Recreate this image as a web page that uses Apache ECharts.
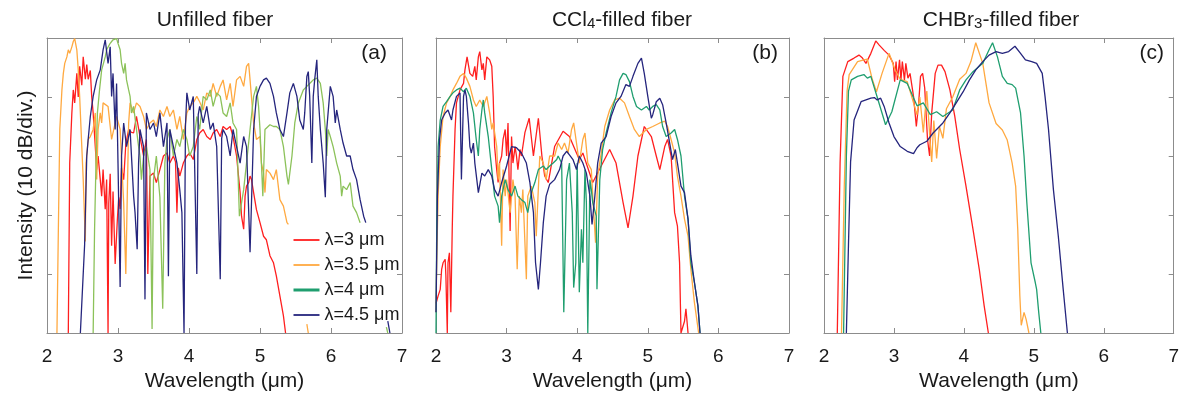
<!DOCTYPE html>
<html>
<head>
<meta charset="utf-8">
<script src="https://cdn.jsdelivr.net/npm/echarts@6/dist/echarts.min.js"></script>
<style>
html, body { margin: 0; padding: 0; background: #fff; }
#chart { width: 1182px; height: 397px; }
</style>
</head>
<body>
<div id="chart"></div>
<script>
// pump wavelengths (one curve per pump in every panel)
const seriesNames = ["λ=3 μm", "λ=3.5 μm", "λ=4 μm", "λ=4.5 μm"];
const panelLetters = ["(a)", "(b)", "(c)"];
const xTicks = [2, 3, 4, 5, 6, 7];
const yDivs = [0, 1, 2, 3, 4, 5];

// points are [wavelength (um), intensity (divisions of 10 dB)]
// (a) unfilled fiber
const unfilled3 = [[2.30,0],[2.32,2.88],[2.35,3.73],[2.37,4.12],[2.39,3.9],[2.42,4.4],[2.44,4.0],[2.46,4.52],[2.49,4.2],[2.51,4.68],[2.54,4.3],[2.56,4.55],[2.58,4.3],[2.61,4.45],[2.63,4.0],[2.65,3.73],[2.68,3.16],[2.7,2.77],[2.72,3.0],[2.75,2.6],[2.77,2.32],[2.79,2.77],[2.82,2.1],[2.84,2.6],[2.86,0],[2.87,2.2],[2.89,2.7],[2.91,1.48],[2.93,2.4],[2.96,1.17],[2.99,1.9],[3.01,2.3],[3.03,2.1],[3.05,2.8],[3.08,2.6],[3.11,3.2],[3.15,3.45],[3.19,3.4],[3.22,3.39],[3.26,3.67],[3.31,3.33],[3.36,3.0],[3.4,3.28],[3.42,1.0],[3.45,2.66],[3.5,2.71],[3.54,2.55],[3.59,2.77],[3.64,3.0],[3.69,3.05],[3.73,2.88],[3.78,3.0],[3.81,2.9],[3.83,2.04],[3.85,2.8],[3.87,2.66],[3.92,2.88],[3.97,3.0],[4.01,3.05],[4.06,2.94],[4.11,3.28],[4.15,3.39],[4.2,3.45],[4.25,3.33],[4.3,3.28],[4.34,3.39],[4.39,3.45],[4.44,3.33],[4.48,3.5],[4.53,3.45],[4.58,3.5],[4.62,3.33],[4.67,3.0],[4.72,2.38],[4.74,1.98],[4.77,1.76],[4.79,2.32],[4.81,2.49],[4.84,2.55],[4.86,2.66],[4.88,2.6],[4.91,2.38],[4.95,2.09],[5.0,1.87],[5.05,1.64],[5.09,1.58],[5.14,1.31],[5.19,1.19],[5.23,0.97],[5.28,0.63],[5.33,0.29],[5.36,0]];
const unfilled35 = [[2.14,0],[2.16,1.76],[2.18,3.45],[2.21,4.12],[2.23,4.4],[2.25,4.57],[2.28,4.68],[2.3,4.8],[2.32,4.74],[2.35,4.85],[2.37,4.94],[2.39,4.99],[2.42,4.8],[2.44,4.46],[2.46,4.01],[2.49,3.16],[2.51,2.6],[2.54,1.55],[2.55,2.88],[2.58,3.28],[2.61,3.33],[2.65,3.45],[2.68,3.73],[2.7,2.6],[2.72,3.45],[2.75,3.73],[2.77,3.56],[2.79,3.9],[2.86,3.84],[2.91,3.28],[2.96,3.56],[2.98,3.67],[3.03,3.45],[3.08,2.2],[3.11,1.0],[3.15,3.56],[3.17,3.9],[3.22,3.73],[3.26,3.9],[3.31,3.84],[3.36,3.67],[3.4,3.45],[3.45,3.56],[3.5,3.61],[3.54,3.5],[3.59,3.78],[3.64,3.67],[3.69,3.84],[3.73,3.67],[3.78,3.78],[3.83,3.45],[3.87,3.67],[3.92,3.28],[3.97,3.73],[4.01,3.84],[4.06,3.9],[4.11,4.01],[4.15,3.92],[4.2,3.78],[4.25,4.07],[4.3,4.01],[4.34,4.23],[4.39,4.01],[4.44,4.18],[4.48,4.29],[4.53,3.95],[4.58,4.23],[4.62,3.84],[4.67,4.29],[4.72,4.35],[4.77,4.18],[4.81,4.52],[4.84,4.57],[4.86,4.29],[4.91,3.56],[4.95,3.28],[5.0,3.33],[5.02,2.88],[5.05,2.71],[5.07,2.38],[5.09,2.77],[5.14,2.71],[5.19,2.6],[5.23,2.77],[5.28,2.26],[5.33,2.15],[5.38,1.87],[5.4,1.84],[5.5,null],[5.66,0.15],[5.68,0]];
const unfilled4 = [[2.65,0],[2.67,1.76],[2.69,2.88],[2.71,3.73],[2.74,4.12],[2.77,4.46],[2.82,4.68],[2.84,4.8],[2.89,4.91],[2.93,4.97],[2.98,4.99],[3.0,4.91],[3.03,4.8],[3.05,4.57],[3.08,4.4],[3.1,4.57],[3.12,4.29],[3.15,4.12],[3.17,4.01],[3.19,3.73],[3.22,3.84],[3.26,3.45],[3.29,3.16],[3.31,3.0],[3.33,2.6],[3.36,3.0],[3.4,3.16],[3.45,2.77],[3.48,0.07],[3.5,2.6],[3.54,3.0],[3.59,2.3],[3.63,0.41],[3.66,2.88],[3.69,3.28],[3.73,3.45],[3.78,3.0],[3.83,3.28],[3.87,3.16],[3.92,3.45],[3.97,3.28],[4.01,3.0],[4.06,3.16],[4.11,3.67],[4.15,3.45],[4.2,4.01],[4.25,3.95],[4.3,4.12],[4.34,3.84],[4.39,4.07],[4.44,4.01],[4.48,3.73],[4.53,3.67],[4.58,3.9],[4.62,3.56],[4.67,3.45],[4.71,1.98],[4.77,2.43],[4.81,2.88],[4.86,3.45],[4.91,4.01],[4.95,4.18],[4.98,3.84],[5.0,3.45],[5.04,2.32],[5.07,3.45],[5.14,3.53],[5.19,3.5],[5.23,3.5],[5.28,3.45],[5.33,3.16],[5.38,2.66],[5.4,2.52],[5.45,3.0],[5.49,3.56],[5.54,3.9],[5.61,4.12],[5.66,4.18],[5.7,4.23],[5.75,4.29],[5.8,4.32],[5.85,4.23],[5.89,3.9],[5.92,3.45],[5.94,3.0],[5.96,3.45],[5.99,3.33],[6.03,3.16],[6.08,2.88],[6.13,2.66],[6.15,2.32],[6.17,2.49],[6.22,2.43],[6.27,2.55],[6.31,2.15],[6.36,2.04],[6.41,1.87],[6.5,null],[6.78,0.1],[6.8,0]];
const unfilled45 = [[2.47,0],[2.53,1.5],[2.56,3.0],[2.58,3.28],[2.61,3.67],[2.65,4.01],[2.7,4.29],[2.75,4.46],[2.77,4.63],[2.79,4.8],[2.82,4.97],[2.84,4.99],[2.86,4.57],[2.89,4.85],[2.91,4.01],[2.93,4.4],[2.96,3.45],[2.98,4.23],[3.0,2.88],[3.03,0.78],[3.05,3.0],[3.08,3.56],[3.12,3.16],[3.17,3.45],[3.22,2.32],[3.24,2.04],[3.27,1.42],[3.29,2.88],[3.31,3.45],[3.36,3.16],[3.38,0.57],[3.4,3.73],[3.45,3.45],[3.5,3.56],[3.54,3.33],[3.59,3.73],[3.64,3.16],[3.69,3.56],[3.71,0.96],[3.73,3.45],[3.78,3.16],[3.83,2.88],[3.87,2.43],[3.9,2.04],[3.93,0],[3.95,3.5],[3.97,4.07],[4.01,3.78],[4.06,4.01],[4.11,1.0],[4.13,3.7],[4.15,3.84],[4.2,3.56],[4.25,3.84],[4.3,3.45],[4.34,3.56],[4.39,3.16],[4.44,0.91],[4.46,3.3],[4.48,3.45],[4.53,3.33],[4.58,3.0],[4.62,3.45],[4.67,3.16],[4.72,2.88],[4.77,3.33],[4.81,3.16],[4.86,1.37],[4.91,3.45],[4.95,4.01],[5.0,4.18],[5.05,4.29],[5.09,4.32],[5.14,4.23],[5.19,4.01],[5.23,3.73],[5.28,3.45],[5.33,3.33],[5.38,3.73],[5.42,4.07],[5.47,4.23],[5.52,4.01],[5.56,3.61],[5.61,3.45],[5.63,3.73],[5.66,4.35],[5.68,4.43],[5.7,4.01],[5.73,2.88],[5.75,4.01],[5.77,4.29],[5.8,4.63],[5.82,4.01],[5.85,3.45],[5.89,2.88],[5.92,2.3],[5.94,3.45],[5.99,4.18],[6.01,4.15],[6.03,4.01],[6.06,3.56],[6.08,3.78],[6.13,3.45],[6.17,3.22],[6.22,3.0],[6.27,3.0],[6.31,2.77],[6.36,2.6],[6.41,2.26],[6.46,1.98],[6.49,1.87],[6.6,null],[6.8,0.2],[6.83,0]];

// (b) CCl4-filled fiber
const ccl3 = [[2.0,0.5],[2.03,0.63],[2.06,0.74],[2.08,1.08],[2.1,1.19],[2.13,1.25],[2.14,0.97],[2.16,0],[2.17,1.19],[2.19,1.36],[2.21,0.35],[2.23,1.76],[2.24,2.32],[2.27,3.45],[2.29,3.9],[2.34,4.12],[2.39,4.23],[2.41,4.46],[2.44,4.68],[2.46,4.71],[2.48,4.4],[2.52,4.35],[2.55,4.52],[2.57,4.29],[2.6,4.68],[2.62,4.77],[2.65,4.46],[2.67,4.57],[2.69,4.29],[2.72,4.68],[2.76,4.63],[2.79,4.52],[2.81,4.01],[2.83,3.16],[2.86,2.77],[2.88,2.55],[2.9,2.88],[2.93,3.0],[2.95,3.28],[2.98,3.45],[3.0,3.0],[3.02,3.56],[3.05,1.73],[3.07,3.33],[3.09,2.88],[3.12,3.16],[3.14,3.0],[3.16,2.77],[3.19,3.11],[3.21,3.0],[3.26,3.4],[3.32,3.64],[3.38,3.0],[3.45,3.64],[3.5,3.0],[3.54,2.66],[3.59,2.55],[3.68,3.16],[3.8,3.42],[3.89,3.33],[3.99,3.05],[4.03,2.94],[4.08,3.05],[4.22,2.55],[4.46,3.11],[4.55,2.88],[4.65,2.21],[4.72,1.78],[4.79,2.32],[4.86,3.0],[4.95,3.5],[5.05,3.33],[5.12,3.0],[5.17,2.77],[5.24,3.16],[5.28,3.28],[5.33,3.0],[5.38,2.04],[5.42,1.81],[5.45,1.19],[5.47,0],[5.52,0.2],[5.54,0.41],[5.57,0]];
const ccl35 = [[2.0,0.35],[2.01,1.19],[2.03,2.32],[2.06,3.16],[2.1,3.67],[2.15,3.9],[2.2,4.01],[2.24,4.12],[2.29,4.23],[2.34,4.35],[2.39,4.4],[2.43,4.32],[2.48,4.18],[2.53,3.95],[2.57,3.84],[2.62,3.95],[2.67,3.84],[2.72,4.01],[2.76,3.73],[2.79,3.45],[2.81,3.56],[2.86,3.16],[2.88,2.6],[2.9,2.88],[2.93,1.48],[2.95,2.77],[2.98,2.32],[3.0,2.6],[3.05,2.04],[3.09,2.6],[3.12,2.32],[3.15,1.08],[3.18,2.32],[3.21,2.04],[3.23,2.43],[3.28,0.91],[3.3,2.32],[3.35,2.49],[3.4,2.21],[3.42,1.64],[3.47,3.0],[3.52,2.88],[3.56,2.6],[3.61,3.0],[3.68,3.0],[3.73,3.22],[3.78,3.11],[3.82,3.22],[3.87,3.05],[3.92,3.45],[3.95,3.56],[3.99,3.22],[4.03,2.88],[4.08,3.28],[4.11,3.39],[4.15,2.88],[4.2,2.77],[4.22,2.32],[4.26,1.53],[4.29,2.66],[4.34,3.05],[4.39,3.5],[4.46,3.78],[4.53,3.95],[4.6,3.98],[4.67,3.9],[4.74,3.67],[4.81,3.45],[4.88,3.33],[4.98,3.45],[5.07,3.5],[5.17,3.56],[5.24,3.59],[5.28,3.5],[5.33,3.28],[5.38,3.05],[5.42,2.66],[5.47,2.32],[5.52,1.93],[5.57,1.64],[5.61,1.08],[5.66,0.52],[5.68,0.35],[5.72,0]];
const ccl4 = [[2.0,0],[2.01,1.76],[2.03,3.16],[2.06,3.61],[2.1,3.84],[2.15,3.92],[2.2,4.01],[2.24,4.07],[2.29,4.12],[2.34,4.15],[2.39,4.09],[2.43,4.15],[2.48,4.01],[2.53,3.73],[2.57,3.28],[2.6,3.0],[2.62,3.45],[2.65,3.78],[2.67,3.95],[2.69,3.73],[2.74,3.33],[2.79,2.77],[2.83,2.32],[2.88,2.15],[2.9,1.87],[2.93,2.32],[2.98,2.6],[3.02,2.43],[3.07,2.32],[3.12,2.49],[3.16,2.32],[3.21,2.26],[3.26,2.21],[3.3,2.04],[3.35,2.38],[3.4,2.55],[3.45,2.77],[3.52,2.83],[3.56,2.77],[3.61,2.83],[3.66,2.88],[3.71,2.94],[3.73,3.0],[3.78,2.88],[3.81,0.35],[3.85,2.6],[3.89,2.88],[3.93,2.04],[3.95,0.77],[3.98,1.19],[4.0,2.88],[4.03,0.69],[4.06,1.76],[4.08,1.19],[4.11,2.77],[4.13,2.21],[4.15,0],[4.18,2.6],[4.2,2.43],[4.22,2.21],[4.27,1.98],[4.28,0.74],[4.32,2.6],[4.36,3.11],[4.41,3.39],[4.48,3.73],[4.55,4.01],[4.6,4.29],[4.65,4.4],[4.69,4.38],[4.74,4.26],[4.79,4.01],[4.84,3.84],[4.91,3.78],[4.98,3.84],[5.02,3.78],[5.07,3.84],[5.12,3.87],[5.17,3.78],[5.21,3.5],[5.26,3.33],[5.33,3.39],[5.38,3.45],[5.42,3.28],[5.47,3.0],[5.52,2.32],[5.57,1.93],[5.61,1.19],[5.66,0.86],[5.71,0.46],[5.74,0]];
const ccl45 = [[2.0,0.35],[2.02,2.32],[2.05,3.28],[2.08,3.61],[2.13,3.73],[2.17,3.78],[2.22,3.61],[2.24,3.78],[2.29,4.01],[2.34,4.07],[2.36,2.6],[2.39,4.01],[2.41,4.12],[2.43,4.01],[2.46,3.56],[2.48,3.16],[2.5,3.05],[2.53,3.22],[2.55,2.88],[2.6,2.38],[2.65,2.71],[2.69,2.66],[2.74,2.77],[2.79,2.66],[2.83,2.43],[2.88,2.32],[2.93,2.55],[3.0,2.83],[3.07,3.16],[3.14,3.14],[3.21,3.05],[3.28,2.88],[3.33,2.55],[3.38,2.04],[3.41,1.19],[3.45,0.74],[3.48,1.19],[3.52,1.87],[3.56,2.32],[3.61,2.52],[3.68,2.6],[3.75,2.77],[3.8,3.0],[3.85,3.08],[3.89,3.02],[3.94,2.94],[3.99,2.77],[4.03,3.0],[4.08,2.88],[4.13,2.71],[4.18,2.32],[4.21,1.84],[4.25,2.32],[4.29,2.88],[4.34,3.22],[4.41,3.33],[4.48,3.67],[4.55,3.9],[4.62,4.01],[4.69,4.21],[4.74,4.18],[4.79,4.35],[4.86,4.57],[4.91,4.66],[4.95,4.4],[5.0,4.01],[5.05,3.64],[5.07,3.7],[5.12,3.92],[5.17,3.98],[5.21,3.87],[5.26,3.56],[5.31,3.22],[5.35,2.94],[5.39,3.11],[5.42,2.88],[5.47,2.49],[5.52,2.38],[5.57,1.93],[5.61,1.31],[5.66,0.86],[5.71,0.46],[5.74,0]];

// (c) CHBr3-filled fiber
const chbr3 = [[2.19,0],[2.23,2.88],[2.27,4.35],[2.34,4.6],[2.43,4.66],[2.5,4.71],[2.55,4.66],[2.6,4.57],[2.67,4.74],[2.74,4.95],[2.79,4.88],[2.86,4.79],[2.93,4.71],[2.99,4.57],[3.01,4.26],[3.03,4.6],[3.05,4.29],[3.08,4.63],[3.1,4.29],[3.12,4.6],[3.15,4.29],[3.17,4.57],[3.2,4.32],[3.23,4.4],[3.28,4.01],[3.32,3.5],[3.35,3.84],[3.38,4.35],[3.41,4.4],[3.44,4.15],[3.48,3.28],[3.51,3.0],[3.54,3.73],[3.59,4.4],[3.63,4.54],[3.68,4.54],[3.73,4.43],[3.8,4.12],[3.87,3.67],[3.94,3.11],[4.03,2.49],[4.13,1.76],[4.22,1.08],[4.29,0.46],[4.35,0]];
const chbr35 = [[2.25,0],[2.29,2.5],[2.33,4.1],[2.36,4.38],[2.48,4.6],[2.57,4.63],[2.62,4.64],[2.69,4.3],[2.75,4.09],[2.83,4.4],[2.93,4.74],[3.02,4.45],[3.09,4.3],[3.19,4.26],[3.28,3.9],[3.33,3.7],[3.37,4.0],[3.42,3.4],[3.47,4.1],[3.52,3.2],[3.54,2.9],[3.57,3.6],[3.61,2.96],[3.65,3.5],[3.7,3.3],[3.75,3.8],[3.84,4.0],[3.94,4.3],[4.03,4.4],[4.1,4.6],[4.17,4.92],[4.27,4.57],[4.36,3.9],[4.46,3.55],[4.55,3.44],[4.62,3.27],[4.69,2.88],[4.74,2.49],[4.77,1.76],[4.8,0.63],[4.82,0.13],[4.86,0.35],[4.89,0.23],[4.93,0]];
const chbr4 = [[2.28,0],[2.32,3.0],[2.35,4.1],[2.39,4.29],[2.48,4.35],[2.57,4.38],[2.62,4.32],[2.67,4.35],[2.76,4.0],[2.88,3.53],[2.97,3.75],[3.09,4.29],[3.19,4.23],[3.33,3.85],[3.42,3.9],[3.52,3.7],[3.61,3.75],[3.7,3.67],[3.84,3.78],[3.94,4.12],[4.03,4.29],[4.13,4.43],[4.27,4.57],[4.36,4.8],[4.41,4.92],[4.48,4.68],[4.55,4.35],[4.62,4.23],[4.69,4.21],[4.74,4.15],[4.81,3.73],[4.86,3.0],[4.9,2.21],[4.96,1.19],[5.02,0.86],[5.04,0.74],[5.07,0.35],[5.1,0]];
const chbr45 = [[2.32,0],[2.35,1.5],[2.38,2.9],[2.43,3.61],[2.53,3.92],[2.67,3.98],[2.72,3.99],[2.76,3.95],[2.81,3.98],[2.86,3.84],[2.93,3.56],[3.0,3.33],[3.09,3.16],[3.19,3.08],[3.28,3.04],[3.33,3.14],[3.37,3.19],[3.47,3.25],[3.56,3.39],[3.7,3.56],[3.8,3.73],[3.89,3.9],[3.99,4.09],[4.08,4.29],[4.17,4.46],[4.27,4.6],[4.36,4.71],[4.46,4.77],[4.55,4.74],[4.64,4.77],[4.73,4.86],[4.81,4.74],[4.88,4.63],[4.97,4.6],[5.04,4.57],[5.12,4.4],[5.16,4.01],[5.21,3.45],[5.28,2.43],[5.35,1.64],[5.42,0.74],[5.48,0]];

const panels = [
  [unfilled3, unfilled35, unfilled4, unfilled45],
  [ccl3, ccl35, ccl4, ccl45],
  [chbr3, chbr35, chbr4, chbr45],
];

const FONT = "'Liberation Sans', Arial, sans-serif";
const INK = "#1a1a1a";
const FRAME = "#8c8c8c";
const colors = ["#ff1f1f", "#ffa940", "#1f9e6f", "#25257d"];
const unfilledGreen = "#8cc25a"; // λ=4 μm is drawn lighter in panel (a)

const grids = [
  { left: 47, top: 38, width: 355, height: 296 },
  { left: 436, top: 38, width: 353, height: 296 },
  { left: 824, top: 38, width: 354, height: 296 },
];
const letterInset = [15, 11, 14];

const xAxis = [];
const yAxis = [];
grids.forEach((g, p) => {
  const common = {
    gridIndex: p,
    type: "value",
    axisLine: { show: true, onZero: false, lineStyle: { color: FRAME, width: 1 } },
    axisTick: { show: true, inside: true, length: 5, lineStyle: { color: FRAME } },
    splitLine: { show: false },
  };
  const xRange = { min: xTicks[0], max: xTicks[xTicks.length - 1], interval: xTicks[1] - xTicks[0] };
  const yRange = { min: yDivs[0], max: yDivs[yDivs.length - 1], interval: yDivs[1] - yDivs[0] };
  xAxis.push({
    ...common, ...xRange, position: "bottom",
    axisLabel: { color: INK, fontSize: 19, margin: 14, fontFamily: FONT },
    name: "Wavelength (μm)",
    nameLocation: "middle",
    nameGap: 38,
    nameTextStyle: { color: INK, fontSize: 21, fontFamily: FONT },
  });
  xAxis.push({ ...common, ...xRange, position: "top", axisLabel: { show: false } });
  yAxis.push({
    ...common, ...yRange, position: "left",
    axisLabel: { show: false },
    name: p === 0 ? "Intensity (10 dB/div.)" : "",
    nameLocation: "middle",
    nameGap: 10,
    nameTextStyle: { color: INK, fontSize: 21, fontFamily: FONT },
  });
  yAxis.push({ ...common, ...yRange, position: "right", axisLabel: { show: false } });
});

const series = [];
panels.forEach((list, p) => {
  list.forEach((data, i) => {
    const c = p === 0 && i === 2 ? unfilledGreen : colors[i];
    series.push({
      name: seriesNames[i],
      type: "line",
      xAxisIndex: p * 2,
      yAxisIndex: p * 2,
      data: data,
      symbol: "none",
      connectNulls: false,
      animation: false,
      lineStyle: { width: 1.3, color: c },
      itemStyle: { color: c },
    });
  });
});

const titleBase = {
  top: 10,
  padding: 0,
  textAlign: "center",
  textStyle: {
    fontSize: 21, fontWeight: "normal", color: INK, fontFamily: FONT,
    rich: { s: { fontSize: 15, color: INK, fontFamily: FONT, verticalAlign: "bottom" } },
  },
};

const option = {
  animation: false,
  backgroundColor: "#fff",
  title: [
    { ...titleBase, left: 215, text: "Unfilled fiber" },
    { ...titleBase, left: 622, text: "CCl{s|4}-filled fiber" },
    { ...titleBase, left: 1001, text: "CHBr{s|3}-filled fiber" },
  ],
  grid: grids,
  xAxis: xAxis,
  yAxis: yAxis,
  legend: {
    left: 287,
    top: 226,
    orient: "vertical",
    itemWidth: 26,
    itemHeight: 14,
    itemGap: 7,
    selectedMode: false,
    textStyle: { fontSize: 18, color: INK, fontFamily: FONT },
    data: seriesNames.map((n, i) => ({
      name: n,
      lineStyle: { color: colors[i], width: i === 2 ? 3 : 1.8 },
      itemStyle: { color: "rgba(0,0,0,0)", borderWidth: 0 },
    })),
  },
  graphic: panelLetters.map((t, p) => ({
    type: "text",
    x: grids[p].left + grids[p].width - letterInset[p],
    y: 53,
    style: { text: t, fontSize: 21, fontFamily: FONT, fill: INK, align: "right", verticalAlign: "middle" },
  })),
  series: series,
};

const chart = echarts.init(document.getElementById("chart"), null, { renderer: "canvas" });
chart.setOption(option);
</script>
</body>
</html>
